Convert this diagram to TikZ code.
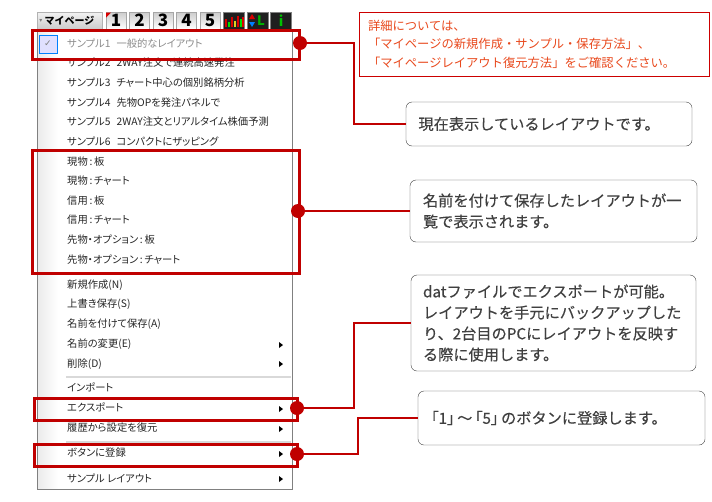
\documentclass[tikz,border=0pt]{standalone}
\usepackage{fontspec}
\usepackage{xcolor}
\setmainfont{Noto Sans CJK JP}
\newfontfamily\menufont[RawFeature={+palt}]{Noto Sans CJK JP}
\newfontfamily\calloutfont[FakeBold=0.25]{Noto Sans CJK JP}
\newfontfamily\calloutpalt[FakeBold=0.25,RawFeature={+palt}]{Noto Sans CJK JP}
\newfontfamily\symbolfont{DejaVu Sans}
\definecolor{markred}{HTML}{C00000}
\definecolor{notered}{HTML}{E8481C}
\definecolor{boxgray}{HTML}{404040}
\tikzset{
  menuitem/.style = {anchor = west, inner sep = 0pt, yshift = -0.7pt, text = black!85,
    font = \menufont\fontsize{10.3}{11}\selectfont},
  marker/.style = {draw = markred, line width = 3pt, outer sep = 0pt, anchor = north west, inner sep = 0pt},
  dot/.style = {circle, fill = markred, minimum size = 14pt, inner sep = 0pt},
  callout/.style = {rectangle, draw = boxgray, fill = white, rounded corners = 6pt, anchor = north west,
    outer sep = 0pt, inner sep = 0pt, inner xsep = 12pt, align = left, text = boxgray, text width = 261pt,
    font = \calloutfont\fontsize{15.2}{21}\selectfont},
  leader/.style = {draw = markred, line width = 2.8pt},
  tabkey/.style = {draw = black!35, top color = black!20, bottom color = white, minimum width = 20pt,
    minimum height = 17pt, inner sep = 0pt, font = \fontsize{17}{17}\selectfont\bfseries},
  darkkey/.style = {draw = black!50, fill = black!88, minimum width = 21pt, minimum height = 17pt, inner sep = 0pt},
  sep/.style = {draw = black!15, line width = 1.2pt}
}
\begin{document}
\begin{tikzpicture}[x = 1pt, y = -1pt]
  \useasboundingbox (0,0) rectangle (712,501);
  % menu body
  \draw[black!50, fill = white] (37,29) rectangle (292,489);
  \shade[left color = black!8, right color = white] (38,30) rectangle (58,488);
  \node[draw = black!30, top color = black!5, bottom color = black!20, minimum width = 65pt, minimum height = 17pt,
    inner sep = 0pt, font = \fontsize{10}{10}\selectfont\bfseries] (mypage) at (69.5,20.5) {マイページ};
  \node[inner sep = 0pt, text = black!50, font = \symbolfont\fontsize{6}{6}\selectfont] (mypagearrow) at (41,21) {▾};
  % number keys
  \foreach \n [count = \i from 0] in {1,...,5}
    \node[tabkey] (key\n) at ({116 + 23.5*\i},20.5) {\n};
  \node[darkkey] (chartkey) at (234,20.5) {};
  \node[darkkey] (lkey) at (258,20.5) {};
  \node[darkkey] (ikey) at (281,20.5) {};
  \node[inner sep = 0pt, text = green!70!black, font = \fontsize{13}{13}\selectfont\bfseries] (ltext) at (261,21) {L};
  \node[inner sep = 0pt, text = green!75!black, font = \fontsize{14}{14}\selectfont\bfseries] (itext) at (281,20.5) {i};
  \fill[red!85!black] (106,12.5) -- (111,12.5) -- (106,17.5) -- cycle;
  \foreach \x/\h/\c in {225/8/red,228/5/green,231/10/red,234/6/yellow,237/11/red,240/8/green,242/10/red}
    \fill[\c!85!black] (\x,27) rectangle +(1.8,-\h);
  \fill[red!85!black] (252,14) -- (255,19) -- (249,19) -- cycle;
  \fill[blue!50!cyan] (252,27) -- (255,22) -- (249,22) -- cycle;
  % check mark
  \node[draw = blue!50!cyan, fill = blue!12, minimum size = 18pt, inner sep = 0pt,
    font = \symbolfont\fontsize{9}{9}\selectfont, text = black!50] (check) at (48,44) {✓};
  % menu items
  \node[menuitem, text = black!45] (s1) at (67,43) {サンプル1\hspace{6pt}一般的なレイアウト};
  \node[menuitem] (s2) at (67,62) {サンプル2\hspace{6pt}2WAY注文で連続高速発注};
  \node[menuitem] (s3) at (67,82) {サンプル3\hspace{6pt}チャート中心の個別銘柄分析};
  \node[menuitem] (s4) at (67,102) {サンプル4\hspace{6pt}先物OPを発注パネルで};
  \node[menuitem] (s5) at (67,121) {サンプル5\hspace{6pt}2WAY注文とリアルタイム株価予測};
  \node[menuitem] (s6) at (67,141) {サンプル6\hspace{6pt}コンパクトにザッピング};
  \node[menuitem] (u1) at (67,161) {現物\,:\,板};
  \node[menuitem] (u2) at (67,180) {現物\,:\,チャート};
  \node[menuitem] (u3) at (67,200) {信用\,:\,板};
  \node[menuitem] (u4) at (67,219) {信用\,:\,チャート};
  \node[menuitem] (u5) at (67,239) {先物・オプション\,:\,板};
  \node[menuitem] (u6) at (67,259) {先物・オプション\,:\,チャート};
  \node[menuitem] (m1) at (67,284) {新規作成(N)};
  \node[menuitem] (m2) at (67,303) {上書き保存(S)};
  \node[menuitem] (m3) at (67,323) {名前を付けて保存(A)};
  \node[menuitem] (m4) at (67,343) {名前の変更(E)};
  \node[menuitem] (m5) at (67,363) {削除(D)};
  \node[menuitem] (m6) at (67,387) {インポート};
  \node[menuitem] (m7) at (67,407) {エクスポート};
  \node[menuitem] (m8) at (67,427) {履歴から設定を復元};
  \node[menuitem] (m9) at (67,452) {ボタンに登録};
  \node[menuitem] (m10) at (67,478) {サンプル レイアウト};
  \draw[sep] (66,377) -- (291,377);
  \draw[sep] (66,442) -- (291,442);
  \foreach \y in {345,364,409,429,454,479}
    \fill[black] (279,\y-3) -- (283,\y) -- (279,\y+3) -- cycle;
  % red frames
  \node[marker, minimum width = 266.5pt, minimum height = 28.5pt] (frameA) at (32.5,30.5) {};
  \node[marker, minimum width = 266.5pt, minimum height = 123pt] (frameB) at (32.5,150.5) {};
  \node[marker, minimum width = 263pt, minimum height = 22pt] (frameC) at (34.5,398) {};
  \node[marker, minimum width = 263pt, minimum height = 22pt] (frameD) at (34.5,444) {};
  \node[dot] (dotA) at (300,43) {};
  \node[dot] (dotB) at (298,211) {};
  \node[dot] (dotC) at (297,408) {};
  \node[dot] (dotD) at (297,454) {};
  % note and callouts
  \node[draw = red!80!black, line width = 0.7pt, outer sep = 0pt, anchor = north west, minimum width = 350pt,
    minimum height = 64pt, inner sep = 0pt, inner xsep = 9pt, text width = 332pt, align = left, text = notered,
    font = \fontsize{12.3}{18.5}\selectfont] (note) at (359,12)
    {詳細については、\\「マイページの新規作成・サンプル・保存方法」、\\「マイページレイアウト復元方法」をご確認ください。};
  \node[callout, minimum width = 286pt, minimum height = 44pt, inner xsep = 11pt] (current) at (406,102)
    {現在表示しているレイアウトです。};
  \node[callout, minimum width = 287pt, minimum height = 62pt] (saved) at (410,180)
    {名前を付けて保存したレイアウトが一\\覧で表示されます。};
  \node[callout, minimum width = 285pt, minimum height = 96pt] (export) at (411,275)
    {datファイルでエクスポートが可能。\\レイアウトを手元にバックアップした\\り、2台目のPCにレイアウトを反映す\\る際に使用します。};
  \node[callout, minimum width = 287pt, minimum height = 54pt] (button) at (418,391)
    {{\calloutpalt 「1」\,〜\,「5」\,}のボタンに登録します。};
  % leaders
  \draw[leader] (dotA) -| (354,0 |- current.west) -- (current.west);
  \draw[leader] (dotB) -- (saved.west |- dotB);
  \draw[leader] (dotC) -| (354,0 |- export.west) -- (export.west);
  \draw[leader] (dotD) -| (358,0 |- button.west) -- (button.west);
\end{tikzpicture}
\end{document}
